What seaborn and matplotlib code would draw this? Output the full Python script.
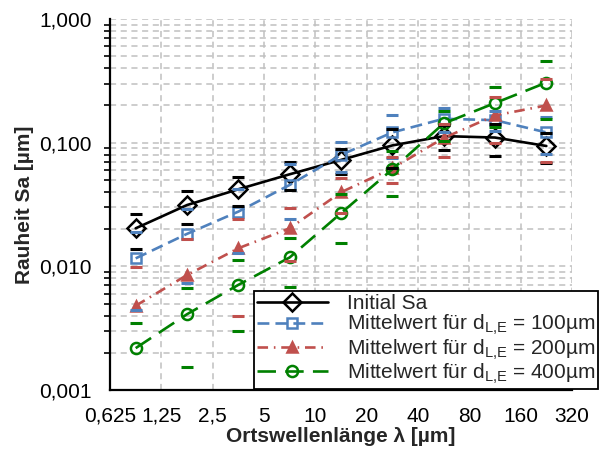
import numpy as np
import matplotlib
matplotlib.use('Agg')
import matplotlib.pyplot as plt
import matplotlib.ticker as mticker
import seaborn as sns

# Ortswellenlaengen (Bandmitten) in µm
lam = [0.884, 1.768, 3.536, 7.071, 14.14, 28.28, 56.57, 113.1, 226.3]

x_ticks = [0.625, 1.25, 2.5, 5, 10, 20, 40, 80, 160, 320]
x_labels = ['0,625', '1,25', '2,5', '5', '10', '20', '40', '80', '160', '320']
y_ticks = [0.001, 0.01, 0.1, 1.0]
y_labels = ['0,001', '0,010', '0,100', '1,000']

# Initial Sa (Mittelwert und Standardabweichung)
sa_init = [0.0203, 0.0313, 0.0420, 0.0555, 0.0725, 0.095, 0.113, 0.110, 0.094]
sa_init_sd = [0.0064, 0.0095, 0.0110, 0.0140, 0.0164, 0.033, 0.026, 0.032, 0.025]

# d_L,E = 100 µm
sa_100 = [0.0116, 0.0183, 0.0277, 0.0455, 0.0796, 0.121, 0.156, 0.152, 0.121]
sa_100_sd = [0.0072, 0.011, 0.0148, 0.0215, 0.022, 0.046, 0.034, 0.028, 0.040]

# d_L,E = 200 µm
sa_200 = [0.0048, 0.0085, 0.0140, 0.0203, 0.0397, 0.062, 0.109, 0.166, 0.200]
sa_200_sd = [0.0050, 0.0080, 0.0100, 0.0093, 0.0125, 0.015, 0.032, 0.067, 0.130]

# d_L,E = 400 µm
sa_400 = [0.00218, 0.0041, 0.00708, 0.0118, 0.0269, 0.0609, 0.143, 0.209, 0.306]
sa_400_sd = [0.0013, 0.00256, 0.0041, 0.0050, 0.0114, 0.024, 0.039, 0.074, 0.150]

sns.set_style('white')
plt.rcParams['font.family'] = ['Liberation Sans', 'DejaVu Sans']
plt.rcParams['mathtext.default'] = 'regular'

fig = plt.figure(figsize=(6, 4.5), dpi=100)
ax = fig.add_axes([110 / 600, 1 - 390 / 450, 462 / 600, 371 / 450])

sub = '$_{L{,}E}$'
series = [
    ('Initial Sa', sa_init, sa_init_sd, 'black', 'D', 9.5, '-', 'none'),
    ('Mittelwert für d' + sub + ' = 100µm', sa_100, sa_100_sd, '#4F81BD', 's', 7, (0, (4.5, 2.3)), 'none'),
    ('Mittelwert für d' + sub + ' = 200µm', sa_200, sa_200_sd, '#C0504D', '^', 6.5, (0, (4.0, 2.2, 0.6, 2.2)), '#C0504D'),
    ('Mittelwert für d' + sub + ' = 400µm', sa_400, sa_400_sd, '#008000', 'o', 8, (0, (7.0, 3.5)), 'none'),
]

for label, mean, sd, col, mk, ms, ls, mfc in series:
    sns.lineplot(x=lam, y=mean, ax=ax, color=col, marker=mk, ms=ms, mec=col, mfc=mfc,
                 mew=1.8, lw=1.9, linestyle=ls, label=label, errorbar=None, zorder=3)

# Standardabweichung nur als Querstriche
for label, mean, sd, col, mk, ms, ls, mfc in series:
    m = np.array(mean)
    s = np.array(sd)
    hi = m + s
    lo = m - s
    lo = np.where(lo > 0, lo, np.nan)
    ax.plot(lam, hi, linestyle='none', marker='_', ms=8, mew=2.2, color=col, zorder=4)
    ax.plot(lam, lo, linestyle='none', marker='_', ms=8, mew=2.2, color=col, zorder=4)

ax.set_xscale('log')
ax.set_yscale('log')
ax.set_xlim(0.625, 320)
ax.set_ylim(0.001, 1)

ax.xaxis.set_major_locator(mticker.FixedLocator(x_ticks))
ax.xaxis.set_major_formatter(mticker.FixedFormatter(x_labels))
ax.xaxis.set_minor_locator(mticker.NullLocator())
ax.yaxis.set_major_locator(mticker.FixedLocator(y_ticks))
ax.yaxis.set_major_formatter(mticker.FixedFormatter(y_labels))
ax.yaxis.set_minor_locator(mticker.LogLocator(base=10, subs=np.arange(2, 10)))
ax.yaxis.set_minor_formatter(mticker.NullFormatter())

ax.grid(True, which='major', axis='both', color='#c0c0c0', linestyle=(0, (4, 3)), lw=1.1)
ax.grid(True, which='minor', axis='y', color='#c0c0c0', linestyle=(0, (4, 3)), lw=1.1)
ax.set_axisbelow(True)

for sp in ['top', 'right']:
    ax.spines[sp].set_visible(False)
for sp in ['left', 'bottom']:
    ax.spines[sp].set_color('black')
    ax.spines[sp].set_linewidth(1.6)

ax.tick_params(axis='both', which='major', direction='inout', length=8, width=1.4,
               labelsize=15, colors='black')
ax.tick_params(axis='y', which='major', pad=9)
ax.tick_params(axis='x', which='major', pad=8)
ax.tick_params(axis='y', which='minor', direction='out', length=4, width=1.4, left=True)

ax.set_xlabel('Ortswellenlänge λ [µm]', fontsize=15, fontweight='bold', labelpad=1)
ax.set_ylabel('Rauheit Sa [µm]', fontsize=15, fontweight='bold', labelpad=4)

leg = ax.legend(loc='lower right', bbox_to_anchor=(598 / 600, 1 - 389 / 450),
                bbox_transform=fig.transFigure, fontsize=15, frameon=True,
                fancybox=False, framealpha=1, edgecolor='black', handlelength=3.4,
                handletextpad=0.9, labelspacing=0.0, borderpad=0.15, borderaxespad=0)
leg.get_frame().set_linewidth(1.3)
leg.set_zorder(5)

fig.savefig('out.png', dpi=100)
